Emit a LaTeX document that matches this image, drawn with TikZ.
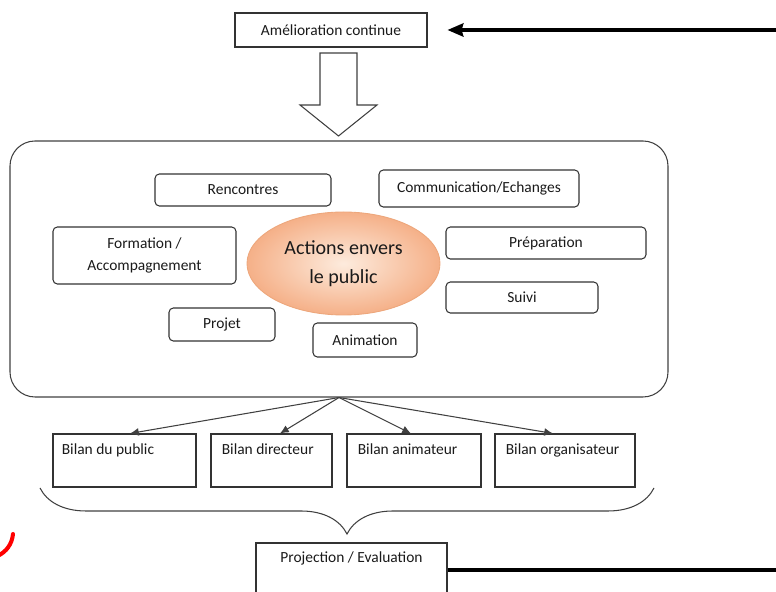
\documentclass[tikz,border=0pt]{standalone}
\usepackage{fontspec}
\setmainfont{Carlito}
\usetikzlibrary{arrows.meta,shapes.geometric,decorations.pathreplacing}

\definecolor{peachin}{HTML}{FDEBDD}
\definecolor{peachout}{HTML}{F5B088}
\definecolor{peachline}{HTML}{EDA77C}
\definecolor{ink}{HTML}{1A1A1A}

\tikzset{
	box/.style={draw=black!80, line width=0.6pt, inner sep=0pt, text=ink, font=\fontsize{8.8}{13}\selectfont},
	rbox/.style={box, rounded corners=2.5pt},
	lbl/.style={inner sep=0pt, text=ink, font=\fontsize{8.8}{13}\selectfont},
	fan/.style={draw=black!75, line width=0.6pt, -{Latex[length=5pt,width=4.5pt]}},
	thickline/.style={line width=1.8pt, black},
}

\begin{document}
\begin{tikzpicture}
			\useasboundingbox (0,0) rectangle (15.52,11.84);
			\clip (0,0) rectangle (15.52,11.84); % Box at the bottom is cut off
			% Top
			\node[box, minimum width=3.84cm, minimum height=0.68cm] (amel) at (6.62,11.24) {Amélioration continue};
			\coordinate (topend) at (15.7,11.24);
			\draw[thickline, -{Stealth[length=9pt,width=7.5pt,inset=1pt]}] (topend) -- ([xshift=4mm]amel.east);
			\draw[draw=black!75, line width=0.6pt, fill=white] (6.40,10.78) -- (7.14,10.78) -- (7.14,9.74) -- (7.54,9.74)
				-- (6.77,9.12) -- (6.00,9.74) -- (6.40,9.74) -- cycle; % Hollow arrow
			% Frame with the actions
			\node[draw=black!75, line width=0.6pt, rounded corners=0.5cm, minimum width=13.16cm, minimum height=5.12cm] (cadre) at (6.78,6.46) {};
			\node[ellipse, draw=peachline, line width=0.5pt, inner color=peachin, outer color=peachout, minimum width=3.86cm, minimum height=2.06cm,
				align=center, text=ink, font=\fontsize{11.4}{16.5}\selectfont] (actions) at (6.87,6.57) {Actions envers\\le public};
			\node[rbox, minimum width=3.52cm, minimum height=0.64cm] (renc) at (4.86,8.04) {Rencontres};
			\node[rbox, minimum width=4.00cm, minimum height=0.74cm] (comm) at (9.58,8.07) {Communication/Echanges};
			\node[rbox, minimum width=3.66cm, minimum height=1.14cm, align=center] (form) at (2.89,6.73) {Formation /\\Accompagnement};
			\node[rbox, minimum width=4.00cm, minimum height=0.64cm] (prep) at (10.92,6.98) {Préparation};
			\node[rbox, minimum width=3.04cm, minimum height=0.62cm] (suivi) at (10.44,5.89) {Suivi};
			\node[rbox, minimum width=2.12cm, minimum height=0.66cm] (projet) at (4.44,5.35) {Projet};
			\node[rbox, minimum width=2.08cm, minimum height=0.68cm] (anim) at (7.30,5.04) {Animation};
			% Assessments
			\node[box, minimum width=2.86cm, minimum height=1.06cm] (pub) at (2.49,2.63) {};
			\node[box, minimum width=2.42cm, minimum height=1.06cm] (dir) at (5.43,2.63) {};
			\node[box, minimum width=2.68cm, minimum height=1.06cm] (anima) at (8.28,2.63) {};
			\node[box, minimum width=2.80cm, minimum height=1.06cm] (orga) at (11.30,2.63) {};
			\node[lbl, anchor=north west] (tpub) at ([shift={(0.18,-0.19)}]pub.north west) {Bilan du public};
			\node[lbl, anchor=north west] (tdir) at ([shift={(0.22,-0.19)}]dir.north west) {Bilan directeur};
			\node[lbl, anchor=north west] (tanima) at ([shift={(0.22,-0.19)}]anima.north west) {Bilan animateur};
			\node[lbl, anchor=north west] (torga) at ([shift={(0.22,-0.19)}]orga.north west) {Bilan organisateur};
			\draw[fan] (cadre.south) -- ([xshift=1.1mm]pub.north);
			\draw[fan] (cadre.south) -- ([xshift=1.7mm]dir.north);
			\draw[fan] (cadre.south) -- ([xshift=-0.6mm]anima.north);
			\draw[fan] (cadre.south) -- ([xshift=-2.4mm]orga.north);
			\draw[draw=black!75, line width=0.6pt, decorate, decoration={brace, mirror, amplitude=0.92cm}] (0.80,2.08) -- (13.08,2.08); % Brace
			% Bottom
			\node[box, minimum width=3.82cm, minimum height=1.48cm] (proj) at (7.03,0.24) {};
			\node[lbl, anchor=north] (tproj) at ([yshift=-0.17cm]proj.north) {Projection / Evaluation};
			\coordinate (botend) at (15.7,0.44);
			\draw[thickline] (botend -| proj.east) -- (botend);
			\draw[red, line width=2.3pt, line cap=round] (0.26,1.16) .. controls (0.24,0.95) and (0.12,0.80) .. (-0.05,0.72); % Red mark
		\end{tikzpicture}
\end{document}
